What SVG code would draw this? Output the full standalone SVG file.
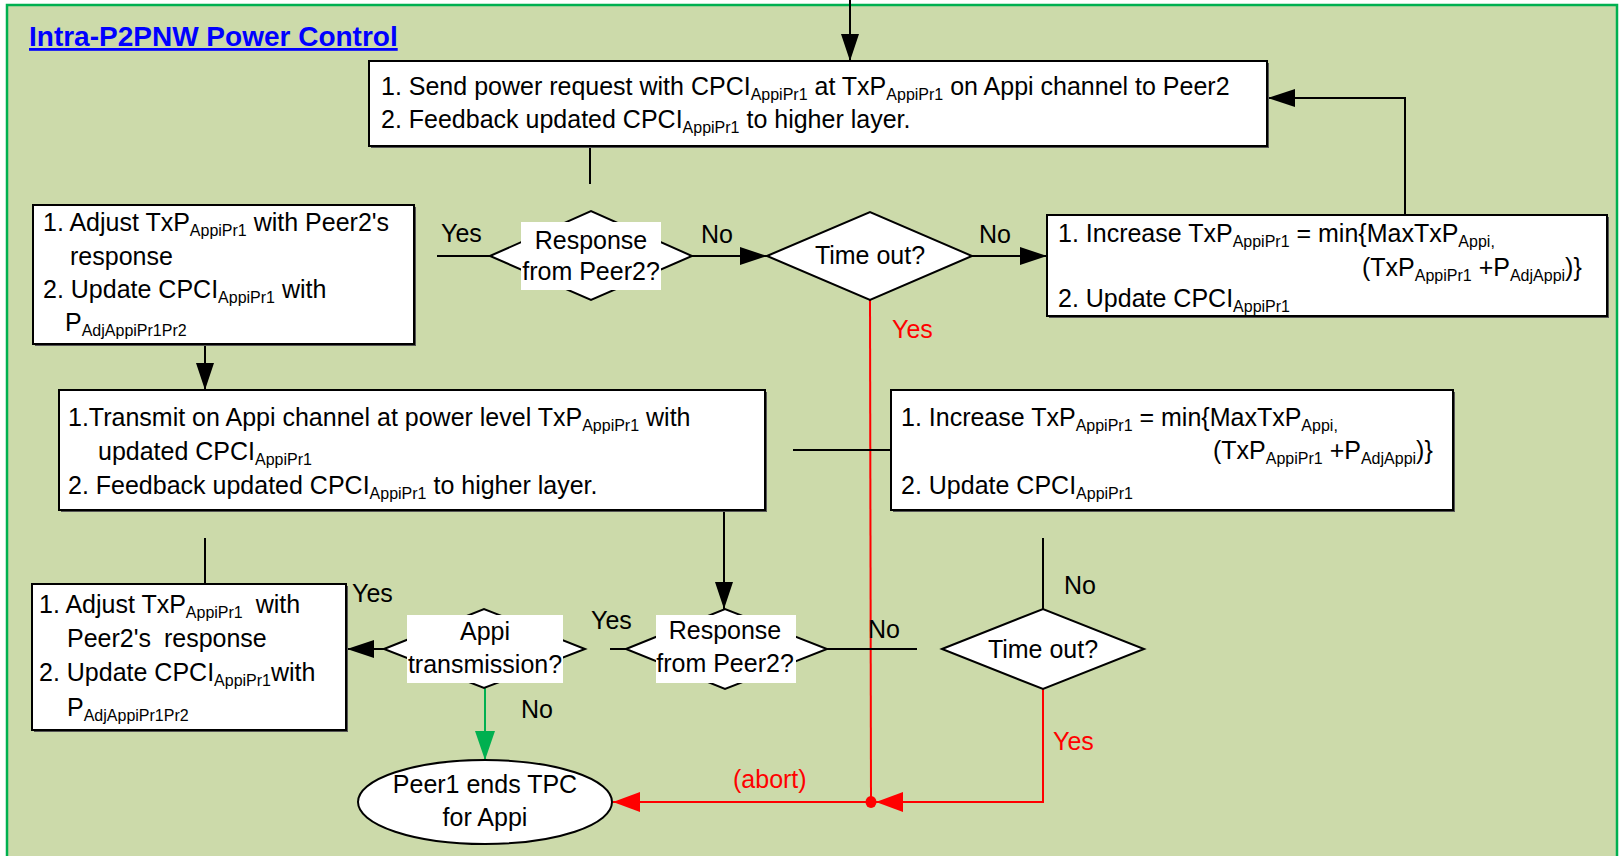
<svg xmlns="http://www.w3.org/2000/svg" width="1622" height="856" viewBox="0 0 1622 856">
<style>
.t{font-family:"Liberation Sans",Arial,sans-serif;font-size:25px;fill:#000}
.c{text-anchor:middle}
.s{font-size:16px}
.r{fill:#FF0000}
.box{fill:#fff;stroke:#000;stroke-width:2}
.sh{fill:#555}
.dia{fill:#fff;stroke:#000;stroke-width:2}
.lbl{fill:#fff}
.k{stroke:#000;stroke-width:2;fill:none}
.red{stroke:#FF0000;stroke-width:2;fill:none}
.grn{stroke:#00B050;stroke-width:2;fill:none}
</style>
<defs>
<marker id="ak" markerUnits="userSpaceOnUse" markerWidth="28" markerHeight="18" refX="27" refY="9" orient="auto"><path d="M0,0 L27,9 L0,18 z" fill="#000"/></marker>
<marker id="ar" markerUnits="userSpaceOnUse" markerWidth="28" markerHeight="20" refX="27" refY="10" orient="auto"><path d="M0,0 L27,10 L0,20 z" fill="#FF0000"/></marker>
<marker id="ag" markerUnits="userSpaceOnUse" markerWidth="30" markerHeight="20" refX="29" refY="10" orient="auto"><path d="M0,0 L29,10 L0,20 z" fill="#00B050"/></marker>
</defs>
<rect x="0" y="0" width="1622" height="856" fill="#fff"/>
<rect x="7" y="5" width="1610" height="870" fill="#CCDAAA" stroke="#00B050" stroke-width="2.5"/>
<text x="29" y="46" font-family="Liberation Sans,Arial,sans-serif" font-size="28" font-weight="bold" fill="#0000FF" text-decoration="underline">Intra-P2PNW Power Control</text>

<g id="connectors">
<line class="k" x1="850" y1="0" x2="850" y2="61" marker-end="url(#ak)"/>
<polyline class="k" points="1405,215 1405,98 1268,98" marker-end="url(#ak)"/>
<line class="k" x1="590" y1="146" x2="590" y2="184"/>
<line class="k" x1="205" y1="344" x2="205" y2="390" marker-end="url(#ak)"/>
<line class="k" x1="437" y1="256" x2="490" y2="256"/>
<line class="k" x1="692" y1="256" x2="767" y2="256" marker-end="url(#ak)"/>
<line class="k" x1="972" y1="256" x2="1047" y2="256" marker-end="url(#ak)"/>
<line class="red" x1="870" y1="300" x2="871" y2="802"/>
<line class="k" x1="793" y1="450" x2="891" y2="450"/>
<line class="k" x1="724" y1="510" x2="724" y2="609" marker-end="url(#ak)"/>
<line class="k" x1="205" y1="538" x2="205" y2="584"/>
<line class="k" x1="610" y1="649" x2="626" y2="649"/>
<line class="k" x1="827" y1="649" x2="917" y2="649"/>
<line class="k" x1="384" y1="649" x2="347" y2="649" marker-end="url(#ak)"/>
<line class="grn" x1="485" y1="688" x2="485" y2="760" marker-end="url(#ag)"/>
<line class="k" x1="1043" y1="538" x2="1043" y2="609"/>
<polyline class="red" points="1043,689 1043,802 876,802" marker-end="url(#ar)"/>
<line class="red" x1="871" y1="802" x2="613" y2="802" marker-end="url(#ar)"/>
<ellipse cx="871" cy="802" rx="5.5" ry="6" fill="#FF0000"/>
<text class="t" x="441" y="242">Yes</text>
<text class="t" x="701" y="243">No</text>
<text class="t" x="979" y="243">No</text>
<text class="t r" x="892" y="338">Yes</text>
<text class="t" x="352" y="602">Yes</text>
<text class="t" x="591" y="629">Yes</text>
<text class="t" x="868" y="638">No</text>
<text class="t" x="521" y="718">No</text>
<text class="t" x="1064" y="594">No</text>
<text class="t r" x="1053" y="750">Yes</text>
<text class="t r" x="733" y="788">(abort)</text>
</g>

<g id="send-request">
<rect class="sh" x="371" y="63" width="898" height="85"/>
<rect class="box" x="369" y="61" width="898" height="85"/>
<text class="t" x="381" y="95">1. Send power request with CPCI<tspan class="s" dy="5">AppiPr1</tspan><tspan dy="-5"> at TxP</tspan><tspan class="s" dy="5">AppiPr1</tspan><tspan dy="-5"> on Appi channel to Peer2</tspan></text>
<text class="t" x="381" y="128">2. Feedback updated CPCI<tspan class="s" dy="5">AppiPr1</tspan><tspan dy="-5"> to higher layer.</tspan></text>
</g>

<g id="adjust-1">
<rect class="sh" x="35" y="207" width="381" height="139"/>
<rect class="box" x="33" y="205" width="381" height="139"/>
<text class="t" x="43" y="231">1. Adjust TxP<tspan class="s" dy="5">AppiPr1</tspan><tspan dy="-5"> with Peer2's</tspan></text>
<text class="t" x="70" y="265">response</text>
<text class="t" x="43" y="298">2. Update CPCI<tspan class="s" dy="5">AppiPr1</tspan><tspan dy="-5"> with</tspan></text>
<text class="t" x="65" y="331">P<tspan class="s" dy="5">AdjAppiPr1Pr2</tspan></text>
</g>

<g id="response-1">
<polygon class="dia" points="490,256 591,211 692,256 591,300"/>
<rect class="lbl" x="521" y="222" width="140" height="68"/>
<text class="t c" x="591" y="249">Response</text>
<text class="t c" x="591" y="280">from Peer2?</text>
</g>

<g id="timeout-1">
<polygon class="dia" points="767,256 870,212 972,256 870,300"/>
<text class="t c" x="870" y="264">Time out?</text>
</g>

<g id="increase-1">
<rect class="sh" x="1049" y="217" width="560" height="101"/>
<rect class="box" x="1047" y="215" width="560" height="101"/>
<text class="t" x="1058" y="242">1. Increase TxP<tspan class="s" dy="5">AppiPr1</tspan><tspan dy="-5"> = min{MaxTxP</tspan><tspan class="s" dy="5">Appi,</tspan></text>
<text class="t" x="1362" y="276">(TxP<tspan class="s" dy="5">AppiPr1</tspan><tspan dy="-5"> +P</tspan><tspan class="s" dy="5">AdjAppi</tspan><tspan dy="-5">)}</tspan></text>
<text class="t" x="1058" y="307">2. Update CPCI<tspan class="s" dy="5">AppiPr1</tspan></text>
</g>

<g id="transmit">
<rect class="sh" x="61" y="392" width="706" height="120"/>
<rect class="box" x="59" y="390" width="706" height="120"/>
<text class="t" x="68" y="426">1.Transmit on Appi channel at power level TxP<tspan class="s" dy="5">AppiPr1</tspan><tspan dy="-5"> with</tspan></text>
<text class="t" x="98" y="460">updated CPCI<tspan class="s" dy="5">AppiPr1</tspan></text>
<text class="t" x="68" y="494">2. Feedback updated CPCI<tspan class="s" dy="5">AppiPr1</tspan><tspan dy="-5"> to higher layer.</tspan></text>
</g>

<g id="increase-2">
<rect class="sh" x="893" y="392" width="562" height="120"/>
<rect class="box" x="891" y="390" width="562" height="120"/>
<text class="t" x="901" y="426">1. Increase TxP<tspan class="s" dy="5">AppiPr1</tspan><tspan dy="-5"> = min{MaxTxP</tspan><tspan class="s" dy="5">Appi,</tspan></text>
<text class="t" x="1213" y="459">(TxP<tspan class="s" dy="5">AppiPr1</tspan><tspan dy="-5"> +P</tspan><tspan class="s" dy="5">AdjAppi</tspan><tspan dy="-5">)}</tspan></text>
<text class="t" x="901" y="494">2. Update CPCI<tspan class="s" dy="5">AppiPr1</tspan></text>
</g>

<g id="adjust-2">
<rect class="sh" x="34" y="586" width="314" height="146"/>
<rect class="box" x="32" y="584" width="314" height="146"/>
<text class="t" x="39" y="613">1. Adjust TxP<tspan class="s" dy="5">AppiPr1</tspan><tspan dy="-5" dx="6"> with</tspan></text>
<text class="t" x="67" y="647">Peer2's<tspan dx="6"> response</tspan></text>
<text class="t" x="39" y="681">2. Update CPCI<tspan class="s" dy="5">AppiPr1</tspan><tspan dy="-5">with</tspan></text>
<text class="t" x="67" y="716">P<tspan class="s" dy="5">AdjAppiPr1Pr2</tspan></text>
</g>

<g id="appi-transmission">
<polygon class="dia" points="384,649 484,609 585,649 484,688"/>
<rect class="lbl" x="407" y="615" width="156" height="68"/>
<text class="t c" x="485" y="640">Appi</text>
<text class="t c" x="485" y="673">transmission?</text>
</g>

<g id="response-2">
<polygon class="dia" points="626,649 725,609 827,649 725,689"/>
<rect class="lbl" x="656" y="615" width="140" height="68"/>
<text class="t c" x="725" y="639">Response</text>
<text class="t c" x="725" y="672">from Peer2?</text>
</g>

<g id="timeout-2">
<polygon class="dia" points="942,649 1043,609 1144,649 1043,689"/>
<text class="t c" x="1043" y="658">Time out?</text>
</g>

<g id="peer1-ends">
<ellipse cx="485" cy="802" rx="127" ry="42" fill="#fff" stroke="#000" stroke-width="2"/>
<text class="t c" x="485" y="793">Peer1 ends TPC</text>
<text class="t c" x="485" y="826">for Appi</text>
</g>
</svg>
